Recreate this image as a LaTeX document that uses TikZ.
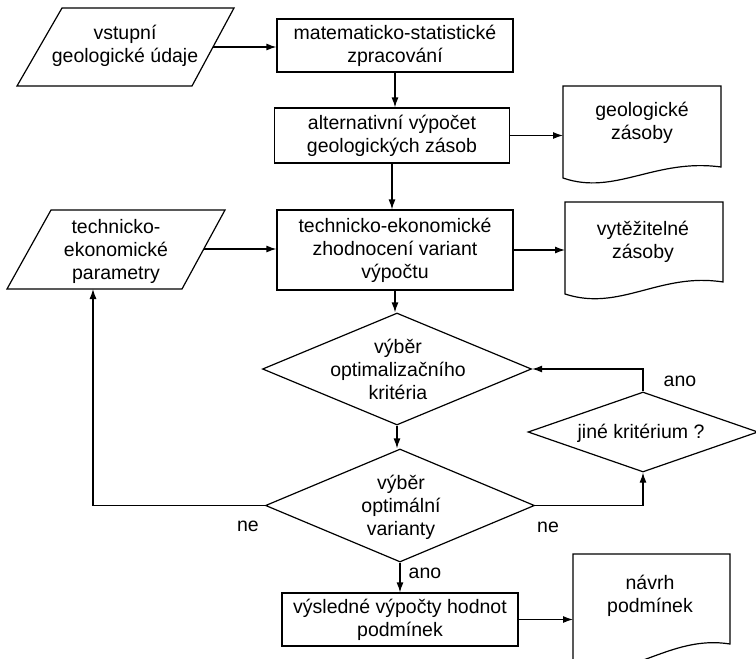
\documentclass[tikz,border=0pt]{standalone}
\usepackage{fontspec}
\setmainfont{Liberation Sans}
\usetikzlibrary{shapes.geometric,arrows.meta}
\begin{document}
\begin{tikzpicture}[x=1pt,y=-1pt,
  every node/.style={font=\fontsize{19.5}{23}\selectfont, align=center, inner sep=0pt},
  ln/.style={line width=1.2pt},
  arr/.style={ln,-{Latex[length=10pt,width=7pt]}},
  box/.style={draw, ln, rectangle},
  dia/.style={draw, ln, diamond}]
\clip (0,0) rectangle (756,659);
\fill[white] (0,0) rectangle (756,659);

% process boxes
\node[box, minimum width=236pt, minimum height=53pt] (b1) at (395,45.5) {matematicko-statistické\\zpracování};
\node[box, minimum width=235pt, minimum height=55pt] (b2) at (392,135.5) {alternativní výpočet\\geologických zásob};
\node[box, minimum width=236pt, minimum height=80pt] (b3) at (395,250) {technicko-ekonomické\\zhodnocení variant\\výpočtu};
\node[box, minimum width=236pt, minimum height=53pt] (b4) at (400,619.5) {výsledné výpočty hodnot\\podmínek};

% input parallelograms
\draw[ln] (17,86) -- (62,8) -- (234,8) -- (192,86) -- cycle;
\node (p1) at (125,46) {vstupní\\geologické údaje};
\coordinate (p1e) at (213,47);

\draw[ln] (7,289) -- (51,210) -- (225,210) -- (182,289) -- cycle;
\node (p2) at (116,251) {technicko-\\ekonomické\\parametry};
\coordinate (p2e) at (204,249);
\coordinate (p2s) at (93,289);

% documents
\draw[ln] (563,86) -- (721,86) -- (721,167) .. controls (655,158) and (615,196) .. (563,178) -- cycle;
\node (gz) at (642,123) {geologické\\zásoby};
\coordinate (gzw) at (563,134);

\draw[ln] (565,202) -- (723,202) -- (723,282) .. controls (660,272) and (620,312) .. (565,294) -- cycle;
\node (vz) at (643,241.5) {vytěžitelné\\zásoby};
\coordinate (vzw) at (565,246);

\draw[ln] (573,554) -- (730,554) -- (730,644) .. controls (668,634) and (628,684) .. (573,666) -- cycle;
\node (nv) at (650,596) {návrh\\podmínek};
\coordinate (nvw) at (573,617);

% decisions
\node[dia, minimum width=269pt, minimum height=112pt] (d1) at (397,369) {};
\node (d1t) at (398,369.5) {výběr\\optimalizačního\\kritéria};
\node[dia, minimum width=269pt, minimum height=113pt] (d2) at (400,505.5) {};
\node (d2t) at (401,507) {výběr\\optimální\\varianty};
\node[dia, minimum width=230pt, minimum height=80pt] (d3) at (643,432) {};
\node (d3t) at (641,433) {jiné kritérium ?};

% connectors
\draw[arr] (p1e) -- (p1e -| b1.west);
\draw[arr] (b1.south) -- (b1.south |- b2.north);
\draw[arr] (b2.south) -- (b2.south |- b3.north);
\draw[arr] (b2.east) -- (b2.east -| gzw);
\draw[arr] (p2e) -- (p2e -| b3.west);
\draw[arr] (b3.east) -- (b3.east -| vzw);
\draw[arr] (b3.south) -- (b3.south |- d1.north);
\draw[arr] (d1.south) -- (d1.south |- d2.north);
\draw[arr] (d2.south) -- (d2.south |- b4.north);
\draw[arr] (b4.east) -- (b4.east -| nvw);
\draw[arr] (d2.east) -| (d3.south);
\draw[arr] (d3.north) |- (d1.east);
\draw[arr] (d2.west) -| (p2s);

% labels
\node (ano1) at (680,381) {ano};
\node (ne1) at (548,527) {ne};
\node (ne2) at (248,526) {ne};
\node (ano2) at (425,573) {ano};
\end{tikzpicture}
\end{document}
